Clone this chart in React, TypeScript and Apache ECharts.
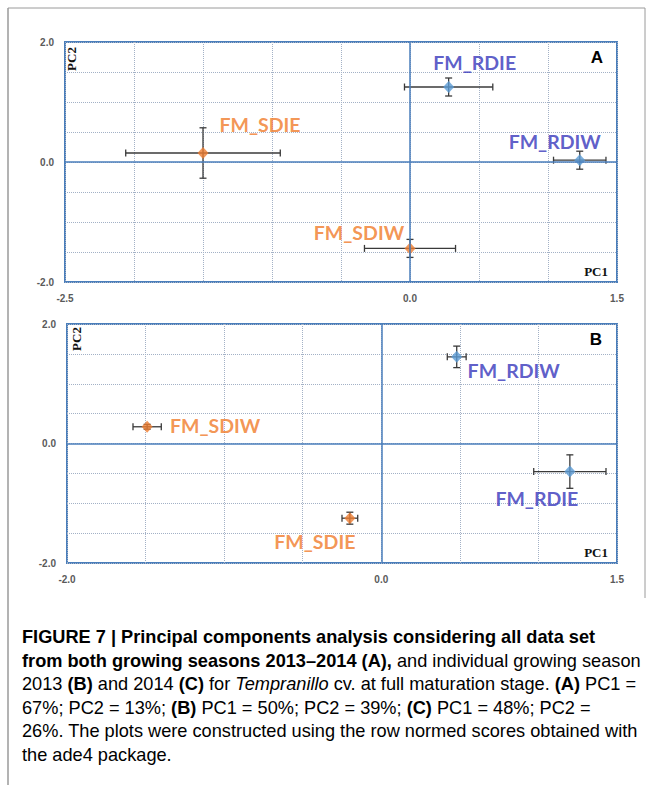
import React, { useEffect, useRef } from 'react';
import * as echarts from 'echarts';

// ---- Panel A data (both seasons 2013–2014)
const namesA = ['FM_RDIE', 'FM_RDIW', 'FM_SDIE', 'FM_SDIW'];
const groupA = ['R', 'R', 'S', 'S'];
const pc1A = [0.28, 1.23, -1.5, 0.0];
const pc2A = [1.25, 0.03, 0.15, -1.44];
const pc1ErrA = [0.32, 0.19, 0.56, 0.33];
const pc2ErrA = [0.15, 0.15, 0.42, 0.15];

// ---- Panel B data (season 2013)
const namesB = ['FM_RDIW', 'FM_SDIW', 'FM_RDIE', 'FM_SDIE'];
const groupB = ['R', 'S', 'R', 'S'];
const pc1B = [0.48, -1.49, 1.2, -0.2];
const pc2B = [1.45, 0.28, -0.47, -1.25];
const pc1ErrB = [0.06, 0.09, 0.23, 0.05];
const pc2ErrB = [0.18, 0.04, 0.28, 0.1];

// ---- Tick labels shown
const xTickLabelsA = [-2.5, 0, 1.5];
const xTickLabelsB = [-2.0, 0, 1.5];
const yTickLabels = [-2, 0, 2];

// ---- Styles (label offsets in px relative to marker)
const labelOffsetA = [[26, -25], [-25, -19], [57, -29], [-51, -16]];
const labelOffsetB = [[57, 14], [68, -1], [-33, 27], [-35, 23]];

const BORDER = '#4a7ebb';
const GRIDLINE = '#a3b1c6';
const MARK = { R: '#5b9bd5', S: '#ed7d31' } as Record<string, string>;
const LABEL = { R: '#3535bb', S: '#f07a28' } as Record<string, string>;

const fmt = (ticks: number[]) => (v: number) =>
  ticks.some((t) => Math.abs(t - v) < 1e-9) ? v.toFixed(1) : '';

function errorRender(params: any, api: any) {
  const x = api.value(0), y = api.value(1), ex = api.value(2), ey = api.value(3);
  const l = api.coord([x - ex, y]);
  const r = api.coord([x + ex, y]);
  const t = api.coord([x, y + ey]);
  const b = api.coord([x, y - ey]);
  const cap = 3.5;
  const style = { stroke: '#3a3a3a', lineWidth: 1.3 };
  const ln = (x1: number, y1: number, x2: number, y2: number) => ({
    type: 'line', shape: { x1, y1, x2, y2 }, style,
  });
  return {
    type: 'group',
    children: [
      ln(l[0], l[1], r[0], r[1]),
      ln(l[0], l[1] - cap, l[0], l[1] + cap),
      ln(r[0], r[1] - cap, r[0], r[1] + cap),
      ln(t[0], t[1], b[0], b[1]),
      ln(t[0] - cap, t[1], t[0] + cap, t[1]),
      ln(b[0] - cap, b[1], b[0] + cap, b[1]),
    ],
  };
}

function panelSeries(
  idx: number, names: string[], groups: string[], xs: number[], ys: number[],
  exs: number[], eys: number[], offs: number[][]
) {
  return [
    {
      type: 'custom',
      xAxisIndex: idx, yAxisIndex: idx,
      renderItem: errorRender,
      encode: { x: 0, y: 1 },
      data: xs.map((x, i) => [x, ys[i], exs[i], eys[i]]),
      z: 3,
      silent: true,
    },
    {
      type: 'scatter',
      xAxisIndex: idx, yAxisIndex: idx,
      symbol: 'diamond',
      symbolSize: [11, 12],
      z: 4,
      data: xs.map((x, i) => ({
        value: [x, ys[i]],
        name: names[i],
        itemStyle: { color: MARK[groups[i]] },
        label: {
          show: true, position: 'inside', offset: offs[i],
          formatter: names[i], color: LABEL[groups[i]],
          fontFamily: 'Lato', fontSize: 19.5, fontWeight: 'bold',
        },
      })),
      markLine: {
        silent: true, symbol: 'none', animation: false,
        label: { show: false },
        lineStyle: { color: BORDER, type: 'solid', width: 1.5 },
        data: [{ xAxis: 0 }, { yAxis: 0 }],
      },
    },
  ];
}

const tickLabelStyle = {
  color: '#5a5a5a', fontSize: 10, fontWeight: 'bold' as const,
  fontFamily: 'Liberation Sans',
};

function makeX(idx: number, min: number, max: number, ticks: number[]) {
  return {
    type: 'value', gridIndex: idx, min, max, interval: 0.5,
    axisLine: { show: false }, axisTick: { show: false },
    splitLine: { show: true, lineStyle: { color: GRIDLINE, type: 'dotted', width: 1 } },
    axisLabel: { ...tickLabelStyle, margin: 11, formatter: fmt(ticks), showMinLabel: true, showMaxLabel: true, hideOverlap: false },
  };
}
function makeY(idx: number) {
  return {
    type: 'value', gridIndex: idx, min: -2, max: 2, interval: 0.5,
    axisLine: { show: false }, axisTick: { show: false },
    splitLine: { show: true, lineStyle: { color: GRIDLINE, type: 'dotted', width: 1 } },
    axisLabel: { ...tickLabelStyle, margin: 11, formatter: fmt(yTickLabels), showMinLabel: true, showMaxLabel: true, hideOverlap: false },
  };
}

const captionLines = [
  '{b|FIGURE 7 | Principal components analysis considering all data set}',
  '{b|from both growing seasons 2013–2014 (A),}{r| and individual growing season}',
  '{r|2013 }{b|(B)}{r| and 2014 }{b|(C)}{r| for }{i|Tempranillo}{r| cv. at full maturation stage. }{b|(A)}{r| PC1 =}',
  '{r|67%; PC2 = 13%; }{b|(B)}{r| PC1 = 50%; PC2 = 39%; }{b|(C)}{r| PC1 = 48%; PC2 =}',
  '{r|26%. The plots were constructed using the row normed scores obtained with}',
  '{r|the ade4 package.}',
];

export default function App() {
  const ref = useRef<HTMLDivElement>(null);
  useEffect(() => {
    if (!ref.current) return;
    const chart = echarts.init(ref.current, undefined, { renderer: 'svg' });
    const capFont = 'Liberation Sans';
    const fs = 18.2;
    const rich = {
      b: { fontFamily: capFont, fontSize: fs, fontWeight: 'bold', color: '#1a1a1a' },
      r: { fontFamily: capFont, fontSize: fs, fontWeight: 'normal', color: '#3a3a3a' },
      i: { fontFamily: capFont, fontSize: fs, fontWeight: 'normal', fontStyle: 'italic', color: '#3a3a3a' },
    };
    const serifBold = { fontFamily: 'Liberation Serif', fontWeight: 'bold', fontSize: 13, fill: '#111' };
    chart.setOption({
      animation: false,
      backgroundColor: '#ffffff',
      grid: [
        { left: 65, top: 42, width: 552, height: 240, show: true, borderColor: BORDER, borderWidth: 2, backgroundColor: '#fff' },
        { left: 67, top: 324, width: 550, height: 239, show: true, borderColor: BORDER, borderWidth: 2, backgroundColor: '#fff' },
      ],
      xAxis: [makeX(0, -2.5, 1.5, xTickLabelsA), makeX(1, -2.0, 1.5, xTickLabelsB)],
      yAxis: [makeY(0), makeY(1)],
      series: [
        ...panelSeries(0, namesA, groupA, pc1A, pc2A, pc1ErrA, pc2ErrA, labelOffsetA),
        ...panelSeries(1, namesB, groupB, pc1B, pc2B, pc1ErrB, pc2ErrB, labelOffsetB),
      ],
      graphic: [
        { type: 'line', shape: { x1: 8, y1: 8, x2: 645, y2: 8 }, style: { stroke: '#9a9a9a', lineWidth: 1 } },
        { type: 'line', shape: { x1: 645, y1: 8, x2: 645, y2: 598 }, style: { stroke: '#9a9a9a', lineWidth: 1 } },
        { type: 'line', shape: { x1: 8, y1: 8, x2: 8, y2: 785 }, style: { stroke: '#9a9a9a', lineWidth: 1.5 } },
        { type: 'text', x: 71, y: 59, rotation: Math.PI / 2, style: { ...serifBold, text: 'PC2', align: 'center', verticalAlign: 'middle' } },
        { type: 'text', x: 608, y: 271, style: { ...serifBold, text: 'PC1', align: 'right', verticalAlign: 'middle' } },
        { type: 'text', x: 597, y: 57, style: { text: 'A', fontFamily: 'Liberation Sans', fontWeight: 'bold', fontSize: 17, fill: '#000', align: 'center', verticalAlign: 'middle' } },
        { type: 'text', x: 76, y: 339, rotation: Math.PI / 2, style: { ...serifBold, text: 'PC2', align: 'center', verticalAlign: 'middle' } },
        { type: 'text', x: 608, y: 552, style: { ...serifBold, text: 'PC1', align: 'right', verticalAlign: 'middle' } },
        { type: 'text', x: 596, y: 339, style: { text: 'B', fontFamily: 'Liberation Sans', fontWeight: 'bold', fontSize: 17, fill: '#000', align: 'center', verticalAlign: 'middle' } },
        ...captionLines.map((t, i) => ({
          type: 'text', x: 22, y: 637 + i * 23.5,
          style: { text: t, rich, align: 'left', verticalAlign: 'middle' },
        })),
      ],
    });
    return () => chart.dispose();
  }, []);
  return (
    <div
      ref={ref}
      style={{ position: 'absolute', left: 0, top: 0, width: 652, height: 785 }}
    />
  );
}
